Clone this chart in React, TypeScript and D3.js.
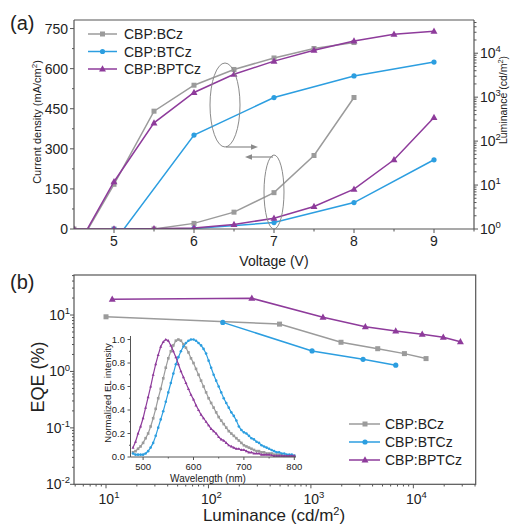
import React from 'react';
import * as d3 from 'd3';

// ---------- Panel (a) data ----------
const V_BCZ = [4.5, 5, 5.5, 6, 6.5, 7, 7.5, 8];
const J_BCZ = [0, 0, 0, 21, 63, 136, 275, 492];
const L_BCZ = [0.28, 10.4, 480, 1870, 4270, 7800, 12800, 17500];

const V_BTCZ = [5, 6, 7, 8, 9];
const J_BTCZ = [0, 2, 24, 99, 259];
const L_BTCZ = [0.5, 137, 980, 3040, 6300];

const V_BPTCZ = [4.5, 5, 5.5, 6, 6.5, 7, 7.5, 8, 8.5, 9];
const J_BPTCZ = [0, 0, 1, 4, 17, 40, 84, 149, 259, 417];
const L_BPTCZ = [0.29, 11.9, 260, 1280, 3330, 6600, 11700, 19000, 27000, 31600];

const J_TICKS = [0, 150, 300, 450, 600, 750];
const V_TICKS = [5, 6, 7, 8, 9];
const LUM_EXP = [0, 1, 2, 3, 4];

// ---------- Panel (b) data ----------
const EQE_L_BCZ = [10.0, 494, 1967, 4490, 8180, 13300];
const EQE_BCZ = [9.3, 6.9, 3.29, 2.53, 2.07, 1.69];
const EQE_L_BTCZ = [138, 1026, 3230, 6730];
const EQE_BTCZ = [7.4, 2.31, 1.64, 1.29];
const EQE_L_BPTCZ = [11.5, 265, 1312, 3400, 6730, 12200, 19600, 28800];
const EQE_BPTCZ = [19.0, 19.8, 9.1, 6.2, 5.2, 4.55, 4.03, 3.37];

const EQE_EXP = [-2, -1, 0, 1];
const LB_EXP = [1, 2, 3, 4];

// ---------- Inset data (EL spectra) ----------
const WL = [480, 485, 490, 495, 500, 505, 510, 515, 520, 525, 530, 535, 540, 545, 550, 555, 560, 565, 570, 575,
  580, 585, 590, 595, 600, 605, 610, 615, 620, 625, 630, 635, 640, 645, 650, 655, 660, 665, 670, 675,
  680, 685, 690, 695, 700, 705, 710, 715, 720, 725, 730, 735, 740, 745, 750, 755, 760, 765, 770, 775,
  780, 785, 790, 795, 800];
const EL_BCZ = [0.04, 0.05, 0.07, 0.09, 0.12, 0.16, 0.20, 0.26, 0.33, 0.41, 0.50, 0.58, 0.67, 0.76, 0.84, 0.90, 0.95, 0.99, 1.00, 0.99,
  0.96, 0.93, 0.89, 0.84, 0.80, 0.75, 0.70, 0.65, 0.60, 0.55, 0.50, 0.46, 0.42, 0.38, 0.34, 0.31, 0.28, 0.25, 0.22, 0.20,
  0.18, 0.16, 0.14, 0.12, 0.10, 0.09, 0.08, 0.07, 0.06, 0.05, 0.05, 0.04, 0.04, 0.03, 0.03, 0.03, 0.02, 0.02, 0.02, 0.02,
  0.01, 0.01, 0.01, 0.01, 0.01];
const EL_BTCZ = [0.03, 0.02, 0.02, 0.02, 0.02, 0.03, 0.05, 0.08, 0.12, 0.18, 0.25, 0.32, 0.39, 0.47, 0.55, 0.63, 0.71, 0.79, 0.85, 0.90,
  0.94, 0.97, 0.99, 1.00, 1.00, 0.99, 0.97, 0.95, 0.92, 0.88, 0.82, 0.76, 0.70, 0.65, 0.60, 0.55, 0.50, 0.46, 0.42, 0.38,
  0.35, 0.31, 0.26, 0.23, 0.21, 0.20, 0.18, 0.16, 0.15, 0.13, 0.12, 0.10, 0.09, 0.08, 0.07, 0.06, 0.05, 0.04, 0.04, 0.03,
  0.03, 0.02, 0.02, 0.02, 0.01];
const EL_BPTCZ = [0.08, 0.13, 0.20, 0.26, 0.33, 0.42, 0.51, 0.60, 0.70, 0.79, 0.87, 0.94, 0.98, 1.00, 0.99, 0.95, 0.90, 0.85, 0.79, 0.73,
  0.68, 0.63, 0.58, 0.53, 0.49, 0.44, 0.40, 0.36, 0.33, 0.30, 0.27, 0.24, 0.22, 0.20, 0.17, 0.15, 0.14, 0.12, 0.10, 0.09,
  0.08, 0.07, 0.07, 0.06, 0.06, 0.05, 0.04, 0.04, 0.03, 0.03, 0.03, 0.02, 0.02, 0.02, 0.02, 0.015, 0.01, 0.01, 0.01, 0.01,
  0.01, 0.01, 0.01, 0.01, 0.01];
const INSET_Y_TICKS = [0, 0.2, 0.4, 0.6, 0.8, 1.0];
const INSET_X_TICKS = [500, 600, 700, 800];

const SERIES = ['CBP:BCz', 'CBP:BTCz', 'CBP:BPTCz'];
const COLORS = ['#9b9b9b', '#2c9ee0', '#8e3b9b'];
const SHAPES = ['square', 'circle', 'triangle'];

const FONT = 'Liberation Sans, Arial, Helvetica, sans-serif';
const AX = '#555';

function Marker({ shape, x, y, color, s }: { shape: string; x: number; y: number; color: string; s: number }) {
  if (shape === 'square') return <rect x={x - s / 2} y={y - s / 2} width={s} height={s} fill={color} />;
  if (shape === 'circle') return <circle cx={x} cy={y} r={s / 2} fill={color} />;
  const h = s * 1.0;
  return <path d={`M${x},${y - h * 0.62}L${x + s * 0.58},${y + h * 0.42}L${x - s * 0.58},${y + h * 0.42}Z`} fill={color} />;
}

function Series({ xs, ys, sx, sy, color, shape, s, w }: any) {
  const pts: [number, number][] = xs.map((x: number, i: number) => [sx(x), sy(ys[i])]);
  const line = d3.line()(pts) || '';
  return (
    <g>
      <path d={line} fill="none" stroke={color} strokeWidth={w} />
      {pts.map((p, i) => <Marker key={i} shape={shape} x={p[0]} y={p[1]} color={color} s={s} />)}
    </g>
  );
}

function Pow({ x, y, exp, anchor, size, sup }: any) {
  return (
    <text x={x} y={y} textAnchor={anchor} fontSize={size} fontFamily={FONT} fill="#222">
      10<tspan dy={-size * 0.42} fontSize={sup}>{exp}</tspan>
    </text>
  );
}

function minorLog(lo: number, hi: number) {
  const out: number[] = [];
  for (let e = Math.floor(Math.log10(lo)); e <= Math.ceil(Math.log10(hi)); e++) {
    for (let m = 2; m <= 9; m++) {
      const v = m * Math.pow(10, e);
      if (v >= lo && v <= hi) out.push(v);
    }
  }
  return out;
}

export default function App() {
  // Panel (a) scales
  const ax = d3.scaleLinear().domain([4.5, 9.5]).range([74, 474]);
  const ayJ = d3.scaleLinear().domain([0, 782]).range([229, 20]);
  const ayL = d3.scaleLog().domain([1, 57000]).range([229, 20]);

  // Panel (b) scales
  const bx = d3.scaleLog().domain([4.87, 40600]).range([74, 475.7]);
  const by = d3.scaleLog().domain([0.01, 51.2]).range([484.3, 275]);

  // Inset scales
  const ix = d3.scaleLinear().domain([475, 800]).range([130.5, 294.3]);
  const iy = d3.scaleLinear().domain([0, 1.03]).range([457, 336]);

  const aData = [
    { v: V_BCZ, j: J_BCZ, l: L_BCZ },
    { v: V_BTCZ, j: J_BTCZ, l: L_BTCZ },
    { v: V_BPTCZ, j: J_BPTCZ, l: L_BPTCZ },
  ];
  const bData = [
    { x: EQE_L_BCZ, y: EQE_BCZ },
    { x: EQE_L_BTCZ, y: EQE_BTCZ },
    { x: EQE_L_BPTCZ, y: EQE_BPTCZ },
  ];
  const iData = [EL_BCZ, EL_BTCZ, EL_BPTCZ];
  const msize = [5, 5.2, 6];

  const jMinor = d3.range(75, 782, 150);
  const vMinor = [5.5, 6.5, 7.5, 8.5, 9.5];

  return (
    <svg width={510} height={525} style={{ position: 'absolute', left: 0, top: 0, background: '#fff' }} fontFamily={FONT}>
      <defs>
        <clipPath id="clipA"><rect x={74} y={20} width={400} height={209} /></clipPath>
        <clipPath id="clipB"><rect x={74} y={275} width={401.7} height={209.3} /></clipPath>
      </defs>
      <rect x={0} y={0} width={510} height={525} fill="#fff" />

      {/* ===== Panel (a) ===== */}
      <text x={10} y={30} fontSize={20} fill="#222">(a)</text>
      <g clipPath="url(#clipA)">
        {aData.map((d, i) => (
          <g key={'L' + i}>
            <Series xs={d.v} ys={d.l} sx={ax} sy={ayL} color={COLORS[i]} shape={SHAPES[i]} s={msize[i]} w={1.5} />
          </g>
        ))}
        {aData.map((d, i) => (
          <g key={'J' + i}>
            <Series xs={d.v} ys={d.j} sx={ax} sy={ayJ} color={COLORS[i]} shape={SHAPES[i]} s={msize[i]} w={1.5} />
          </g>
        ))}
      </g>
      {/* frame */}
      <line x1={74} x2={474} y1={20} y2={20} stroke={AX} strokeWidth={1.2} />
      <line x1={74} x2={474} y1={229} y2={229} stroke={AX} strokeWidth={1.2} />
      <line x1={74} x2={74} y1={20} y2={229} stroke={AX} strokeWidth={1.2} />
      <line x1={474} x2={474} y1={20} y2={229} stroke={AX} strokeWidth={1.2} />
      {/* left ticks */}
      {J_TICKS.map(t => (
        <g key={'jt' + t}>
          <line x1={70} x2={74} y1={ayJ(t)} y2={ayJ(t)} stroke={AX} />
          <text x={68} y={ayJ(t) + 5} textAnchor="end" fontSize={14} fill="#222">{t}</text>
        </g>
      ))}
      {jMinor.map(t => <line key={'jm' + t} x1={72} x2={74} y1={ayJ(t)} y2={ayJ(t)} stroke={AX} />)}
      {/* bottom ticks */}
      {V_TICKS.map(t => (
        <g key={'vt' + t}>
          <line x1={ax(t)} x2={ax(t)} y1={229} y2={233} stroke={AX} />
          <text x={ax(t)} y={246} textAnchor="middle" fontSize={14} fill="#222">{t}</text>
        </g>
      ))}
      {vMinor.map(t => <line key={'vm' + t} x1={ax(t)} x2={ax(t)} y1={229} y2={231.5} stroke={AX} />)}
      {/* right log ticks */}
      {LUM_EXP.map(e => (
        <g key={'le' + e}>
          <line x1={474} x2={478} y1={ayL(Math.pow(10, e))} y2={ayL(Math.pow(10, e))} stroke={AX} />
          <Pow x={480} y={ayL(Math.pow(10, e)) + 5} exp={e} anchor="start" size={14} sup={9.5} />
        </g>
      ))}
      {minorLog(1, 57000).map(v => <line key={'lm' + v} x1={474} x2={476.5} y1={ayL(v)} y2={ayL(v)} stroke={AX} />)}
      {/* axis titles */}
      <text x={274} y={266} textAnchor="middle" fontSize={14} fill="#222">Voltage (V)</text>
      <text transform="translate(41,122) rotate(-90)" textAnchor="middle" fontSize={11} fill="#222">
        Current density (mA/cm<tspan dy={-4} fontSize={8}>2</tspan><tspan dy={4}>)</tspan>
      </text>
      <text transform="translate(507,100) rotate(-90)" textAnchor="middle" fontSize={10.5} fill="#222">
        Luminance (cd/m<tspan dy={-4} fontSize={7.5}>2</tspan><tspan dy={4}>)</tspan>
      </text>
      {/* ellipses and arrows */}
      <ellipse cx={225} cy={105} rx={15} ry={42} fill="none" stroke="#8a8a8a" strokeWidth={1} />
      <line x1={226} x2={253} y1={147} y2={147} stroke="#8a8a8a" strokeWidth={1.2} />
      <path d="M258,147 L251,144.3 L251,149.7 Z" fill="#8a8a8a" />
      <ellipse cx={274} cy={192} rx={10} ry={37} fill="none" stroke="#8a8a8a" strokeWidth={1} />
      <line x1={273} x2={250} y1={157} y2={157} stroke="#8a8a8a" strokeWidth={1.2} />
      <path d="M245,157 L252,154.3 L252,159.7 Z" fill="#8a8a8a" />
      {/* legend (a) */}
      {SERIES.map((s, i) => (
        <g key={'lga' + i}>
          <line x1={88} x2={117} y1={34 + i * 17.5} y2={34 + i * 17.5} stroke={COLORS[i]} strokeWidth={1.5} />
          <Marker shape={SHAPES[i]} x={102.5} y={34 + i * 17.5} color={COLORS[i]} s={msize[i]} />
          <text x={124} y={39 + i * 17.5} fontSize={14} fill="#222">{s}</text>
        </g>
      ))}

      {/* ===== Panel (b) ===== */}
      <text x={10} y={289} fontSize={20} fill="#222">(b)</text>
      <rect x={74} y={275} width={401.7} height={209.3} fill="none" stroke={AX} strokeWidth={1.2} />
      {EQE_EXP.map(e => (
        <g key={'ee' + e}>
          <line x1={70} x2={74} y1={by(Math.pow(10, e))} y2={by(Math.pow(10, e))} stroke={AX} />
          <Pow x={70} y={by(Math.pow(10, e)) + 5} exp={e} anchor="end" size={14} sup={9.5} />
        </g>
      ))}
      {minorLog(0.01, 51.2).map(v => <line key={'em' + v} x1={72} x2={74} y1={by(v)} y2={by(v)} stroke={AX} />)}
      {LB_EXP.map(e => (
        <g key={'lb' + e}>
          <line x1={bx(Math.pow(10, e))} x2={bx(Math.pow(10, e))} y1={484.3} y2={488.3} stroke={AX} />
          <Pow x={bx(Math.pow(10, e)) + 3} y={504} exp={e} anchor="middle" size={14} sup={9.5} />
        </g>
      ))}
      {minorLog(4.87, 40600).map(v => <line key={'bm' + v} x1={bx(v)} x2={bx(v)} y1={484.3} y2={486.5} stroke={AX} />)}
      <text transform="translate(44,377) rotate(-90)" textAnchor="middle" fontSize={18} fill="#222">EQE (%)</text>
      <text x={274} y={521} textAnchor="middle" fontSize={17} fill="#222">
        Luminance (cd/m<tspan dy={-6} fontSize={11}>2</tspan><tspan dy={6}>)</tspan>
      </text>

      {/* inset */}
      <g>
        {iData.map((d, i) => (
          <Series key={'in' + i} xs={WL} ys={d} sx={ix} sy={iy} color={COLORS[i]} shape={SHAPES[i]} s={2.6} w={1.2} />
        ))}
        <line x1={130.5} x2={130.5} y1={336} y2={457} stroke={AX} />
        <line x1={130.5} x2={296} y1={457} y2={457} stroke={AX} />
        {INSET_Y_TICKS.map(t => (
          <g key={'iy' + t}>
            <line x1={127.5} x2={130.5} y1={iy(t)} y2={iy(t)} stroke={AX} />
            <text x={125} y={iy(t) + 3.3} textAnchor="end" fontSize={9.5} fill="#222">{t.toFixed(1)}</text>
          </g>
        ))}
        {[0.1, 0.3, 0.5, 0.7, 0.9].map(t => <line key={'iym' + t} x1={129} x2={130.5} y1={iy(t)} y2={iy(t)} stroke={AX} />)}
        {INSET_X_TICKS.map(t => (
          <g key={'ix' + t}>
            <line x1={ix(t)} x2={ix(t)} y1={457} y2={460} stroke={AX} />
            <text x={ix(t)} y={470} textAnchor="middle" fontSize={9.5} fill="#222">{t}</text>
          </g>
        ))}
        {[550, 650, 750].map(t => <line key={'ixm' + t} x1={ix(t)} x2={ix(t)} y1={457} y2={458.5} stroke={AX} />)}
        <text x={208} y={482} textAnchor="middle" fontSize={10} fill="#222">Wavelength (nm)</text>
        <text transform="translate(111,393) rotate(-90)" textAnchor="middle" fontSize={9.5} fill="#222">Normalized EL intensity</text>
      </g>

      <g clipPath="url(#clipB)">
        {bData.map((d, i) => (
          <Series key={'b' + i} xs={d.x} ys={d.y} sx={bx} sy={by} color={COLORS[i]} shape={SHAPES[i]} s={msize[i]} w={1.5} />
        ))}
      </g>
      {/* legend (b) */}
      {SERIES.map((s, i) => (
        <g key={'lgb' + i}>
          <line x1={349} x2={380} y1={424 + i * 18} y2={424 + i * 18} stroke={COLORS[i]} strokeWidth={1.5} />
          <Marker shape={SHAPES[i]} x={365} y={424 + i * 18} color={COLORS[i]} s={msize[i]} />
          <text x={385} y={429 + i * 18} fontSize={14} fill="#222">{s}</text>
        </g>
      ))}
    </svg>
  );
}
